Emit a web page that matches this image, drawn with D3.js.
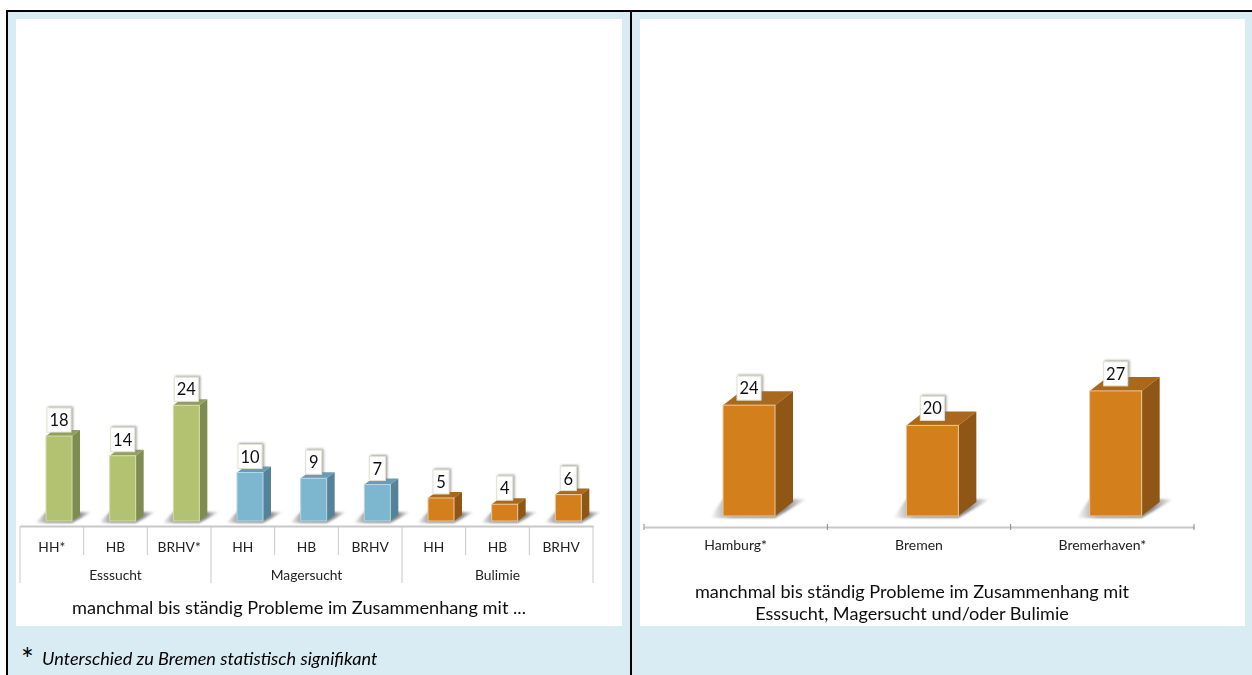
<!DOCTYPE html>
<html><head><meta charset="utf-8">
<script src="https://cdn.jsdelivr.net/npm/d3@7"></script>
<style>html,body{margin:0;padding:0;background:#fff;overflow:hidden}svg{display:block}text{font-family:Lato,Carlito,sans-serif}</style>
</head><body><svg id="c" width="1252" height="675"></svg>
<script>
const leftCategories = ["HH*","HB","BRHV*","HH ","HB ","BRHV ","HH  ","HB  ","BRHV  "];
const leftHeights = [17.7,13.6,24.1,10.1,8.9,7.6,4.8,3.5,5.5];
const leftLabels = ["18","14","24","10","9","7","5","4","6"];
const leftKinds = ["green","green","green","blue","blue","blue","orange","orange","orange"];
const leftGroups = ["Esssucht","Magersucht","Bulimie"];
const rightCategories = ["Hamburg*","Bremen","Bremerhaven*"];
const rightHeights = [24.1,19.7,27.2];
const rightLabels = ["24","20","27"];
const rightKinds = ["orange","orange","orange"];
const leftTitle = ["manchmal bis ständig Probleme im Zusammenhang mit ..."];
const rightTitle = ["manchmal bis ständig Probleme im Zusammenhang mit","Esssucht, Magersucht und/oder Bulimie"];
const footnote = "Unterschied zu Bremen statistisch signifikant";

const palette = {
  green:{front:"#B2C270",side:"#7F8C50",top:"#939F5C",edge:"#D5DDB0"},
  blue:{front:"#7DB6CF",side:"#548298",top:"#6A9DB3",edge:"#B5D6E4"},
  orange:{front:"#D27F1F",side:"#8F5614",top:"#A9681A",edge:"#EBC9A0"}
};
const svg = d3.select("#c");
const defs = svg.append("defs");
defs.append("filter").attr("id","blur").attr("x","-30%").attr("y","-50%").attr("width","160%").attr("height","200%")
  .append("feGaussianBlur").attr("stdDeviation",1.1);
const grad = defs.append("linearGradient").attr("id","shade");
[[0,0],[.22,.75],[.78,.85],[1,0]].forEach(([o,a])=>grad.append("stop").attr("offset",o).attr("stop-color","#777").attr("stop-opacity",a));
const ds = defs.append("filter").attr("id","boxshadow").attr("x","-30%").attr("y","-30%").attr("width","170%").attr("height","170%");
ds.append("feDropShadow").attr("dx",1.5).attr("dy",-1).attr("stdDeviation",1.2).attr("flood-color","#777").attr("flood-opacity",.7);
const soft = defs.append("filter").attr("id","soft");
soft.append("feGaussianBlur").attr("stdDeviation",.35);

// backgrounds
svg.append("rect").attr("x",8).attr("y",12).attr("width",1244).attr("height",663).attr("fill","#DAECF3");
svg.append("rect").attr("x",16).attr("y",19).attr("width",606).attr("height",607).attr("fill","#fff");
svg.append("rect").attr("x",640).attr("y",19).attr("width",605).attr("height",607).attr("fill","#fff");
svg.append("rect").attr("x",6).attr("y",10).attr("width",1246).attr("height",2).attr("fill","#000");
svg.append("rect").attr("x",6).attr("y",10).attr("width",2).attr("height",665).attr("fill","#000");
svg.append("rect").attr("x",630).attr("y",10).attr("width",2).attr("height",665).attr("fill","#000");

function bars(g, cats, vals, labels, kinds, x, y, o){
  const base = y(0);
  const item = g.selectAll("g.bar").data(cats.map((c,i)=>({c,v:vals[i],l:labels[i],k:kinds[i]}))).join("g").attr("class","bar");
  item.each(function(d){
    const s = d3.select(this), p = palette[d.k];
    const x0 = x(d.c)+o.inset, x1 = x0+o.w, t = y(d.v);
    s.append("polygon").attr("points",[[x0-o.sl,base+2],[x1,base+2],[x1+o.dx+o.sr,base-o.dy-3],[x0,base-o.dy-3]].join(" "))
      .attr("fill","url(#shade)").attr("filter","url(#blur)");
    s.append("polygon").attr("points",[[x0,t],[x0+o.dx,t-o.dy],[x1+o.dx,t-o.dy],[x1,t]].join(" ")).attr("fill",p.top);
    s.append("polygon").attr("points",[[x1,t],[x1+o.dx,t-o.dy],[x1+o.dx,base-o.dy],[x1,base]].join(" ")).attr("fill",p.side);
    s.append("rect").attr("x",x0).attr("y",t).attr("width",o.w).attr("height",base-t)
      .attr("fill",p.front).attr("stroke",p.edge).attr("stroke-width",1);
    const bw = d.l.length>1?24:16;
    s.append("rect").attr("x",(x0+x1)/2-bw/2).attr("y",t-o.gap-24).attr("width",bw).attr("height",24)
      .attr("fill","#fff").attr("stroke","#E4E2CF").attr("stroke-width",1).attr("filter","url(#boxshadow)");
    s.append("text").attr("x",(x0+x1)/2).attr("y",t-o.gap-6).attr("text-anchor","middle")
      .attr("font-size",o.fs).attr("fill","#111").text(d.l);
  });
}
function styleAxis(a, fs){
  a.select(".domain").attr("stroke","#C8C8C8").attr("stroke-width",1.8);
  a.selectAll("text").attr("font-size",fs).attr("fill","#222").attr("font-family","Lato,sans-serif");
}

// left chart
const xL = d3.scaleBand().domain(leftCategories).range([20,593]);
const yL = d3.scaleLinear().domain([0,100]).range([521,41]);
const gL = svg.append("g").attr("filter","url(#soft)");
const axL = gL.append("g").attr("transform","translate(0,526)")
  .call(d3.axisBottom(xL).tickSize(0).tickPadding(16).tickSizeOuter(0).tickFormat(d=>d.trim()));
styleAxis(axL,13.8);
gL.selectAll("line.sep").data(d3.range(leftCategories.length+1)).join("line").attr("class","sep")
  .attr("x1",i=>20+i*xL.step()).attr("x2",i=>20+i*xL.step())
  .attr("y1",526).attr("y2",i=>i%3===0?583:555).attr("stroke","#C8C8C8").attr("stroke-width",1);
gL.selectAll("text.group").data(leftGroups).join("text").attr("class","group")
  .attr("x",(d,i)=>20+(i*3+1.5)*xL.step()).attr("y",580).attr("text-anchor","middle")
  .attr("font-size",13.8).attr("fill","#222").text(d=>d);
bars(gL,leftCategories,leftHeights,leftLabels,leftKinds,xL,yL,{inset:26,w:26,dx:8,dy:6,gap:4,sl:11,sr:12,fs:16.5});
gL.selectAll("text.title").data(leftTitle).join("text").attr("class","title")
  .attr("x",299).attr("y",613.5).attr("text-anchor","middle").attr("font-size",18.2).attr("fill","#111").text(d=>d);

// right chart
const xR = d3.scaleBand().domain(rightCategories).range([644,1194]);
const yR = d3.scaleLinear().domain([0,100]).range([516,56]);
const gR = svg.append("g").attr("filter","url(#soft)");
const axR = gR.append("g").attr("transform","translate(0,527)")
  .call(d3.axisBottom(xR).tickSize(0).tickPadding(13).tickSizeOuter(0));
styleAxis(axR,14);
gR.selectAll("line.sep").data(d3.range(rightCategories.length+1)).join("line").attr("class","sep")
  .attr("x1",i=>644+i*xR.step()).attr("x2",i=>644+i*xR.step())
  .attr("y1",524).attr("y2",530).attr("stroke","#888").attr("stroke-width",1);
bars(gR,rightCategories,rightHeights,rightLabels,rightKinds,xR,yR,{inset:79,w:52,dx:18,dy:14,gap:5,sl:13,sr:14,fs:16.5});
gR.selectAll("text.title").data(rightTitle).join("text").attr("class","title")
  .attr("x",912).attr("y",(d,i)=>598+i*22).attr("text-anchor","middle").attr("font-size",18.1).attr("fill","#111").text(d=>d);

// footnote
svg.append("text").attr("x",21).attr("y",670).attr("font-size",30).attr("fill","#000").text("*");
svg.append("text").attr("x",42).attr("y",665).attr("font-size",18.15).attr("font-style","italic").attr("fill","#000").attr("filter","url(#soft)").text(footnote);
</script></body></html>
